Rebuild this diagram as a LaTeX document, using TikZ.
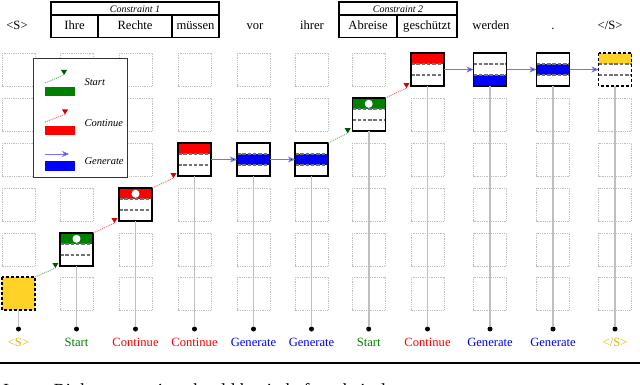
\documentclass[tikz,border=0pt]{standalone}
\usepackage{fontspec}
\setmainfont{Liberation Serif}
\usetikzlibrary{arrows.meta,calc}
\definecolor{gold}{RGB}{255,210,40}
\definecolor{goldtext}{RGB}{228,178,0}
\definecolor{dgreen}{RGB}{0,128,0}
\definecolor{tipgreen}{RGB}{0,85,0}
\definecolor{tipred}{RGB}{210,0,0}
\definecolor{navy}{RGB}{0,0,110}
\tikzset{
 gridbox/.style={draw=black!25, densely dotted, line width=0.8pt},
 tokshape/.style={minimum width=33pt, minimum height=33pt, inner sep=0pt, outer sep=0pt, fill=white},
 slotline/.style={draw=black!55, line width=1.3pt, dash pattern=on 3.5pt off 1.8pt},
 boxborder/.style={draw=black, line width=1.4pt},
 dashedborder/.style={draw=black, line width=1.4pt, dash pattern=on 3pt off 2pt},
 stemline/.style={draw=black!25, line width=1.6pt},
 dotn/.style={circle, fill=black, inner sep=0pt, minimum size=5pt},
 lab/.style={anchor=base, font=\fontsize{12.6}{14}\selectfont},
 word/.style={anchor=base, font=\fontsize{12.6}{14}\selectfont},
 ctitle/.style={anchor=base, font=\fontsize{10}{12}\selectfont\itshape},
 cbox/.style={draw=black, line width=1.1pt},
 legbox/.style={draw=black!80, line width=0.9pt, fill=white, minimum width=94pt, minimum height=119pt, inner sep=0pt},
 legtext/.style={anchor=base west, font=\fontsize{10.5}{12}\selectfont\itshape},
 startline/.style={draw=dgreen!55, densely dotted, line width=1pt},
 contline/.style={draw=red!60, densely dotted, line width=1pt},
 genline/.style={draw=blue!55, line width=0.9pt, -{Stealth[length=7pt,width=6pt,inset=2pt,fill=navy]}},
}
% name, x, ytop, colour, slot, circle(0/1), border style
\newcommand\tokbox[7]{%
 \node[tokshape] (#1) at (#2,#3+16.5) {};
 \fill[#4] (#2-16.5,#3+11*#5) rectangle (#2+16.5,#3+11*#5+11);
 \ifnum#6=1 \fill[white] (#2,#3+5.8) circle[radius=4];\fi
 \draw[slotline] (#2-16.5,#3+11) -- (#2+16.5,#3+11);
 \draw[slotline] (#2-16.5,#3+22) -- (#2+16.5,#3+22);
 \draw[#7] (#1.north west) rectangle (#1.south east);}
\newcommand\triarrow[4]{\draw[#3] (#1) -- (#2); \fill[#4] (#2) -- ++(-3,-5) -- ++(6,0) -- cycle;}
\begin{document}
\begin{tikzpicture}[x=1pt,y=-1pt]
\useasboundingbox (0,0) rectangle (640,385);
% grid of empty cells
\foreach \gx/\occ in {18.5/5,76.5/4,135.5/3,194.5/2,253.5/2,311.5/2,368.7/1,427.5/0,490/0,553/0,615/0}{
 \foreach \rr/\gy in {0/53,1/98,2/143,3/188,4/233,5/277}{
  \ifnum\rr=\occ\relax\else \draw[gridbox] (\gx-16.5,\gy) rectangle ++(33,33);\fi}}
% header
\draw[cbox] (51,2) rectangle (219,37.5);
\draw[cbox] (51,15) -- (219,15);
\draw[cbox] (98,15) -- (98,37.5);
\draw[cbox] (172,15) -- (172,37.5);
\node[ctitle] (c1) at (135,12.3) {Constraint 1};
\draw[cbox] (339,2) rectangle (457,37.5);
\draw[cbox] (339,15) -- (457,15);
\draw[cbox] (397,15) -- (397,37.5);
\node[ctitle] (c2) at (398,12.3) {Constraint 2};
\node[word] (w0) at (17,29.5) {\textless S\textgreater};
\node[word] (w1) at (74.5,29.5) {Ihre};
\node[word] (w2) at (135,29.5) {Rechte};
\node[word] (w3) at (195.5,29.5) {müssen};
\node[word] (w4) at (255,29.5) {vor};
\node[word] (w5) at (312,29.5) {ihrer};
\node[word] (w6) at (368,29.5) {Abreise};
\node[word] (w7) at (427,29.5) {geschützt};
\node[word] (w8) at (491,29.5) {werden};
\node[word] (w9) at (553,29.5) {.};
\node[word] (w10) at (610,29.5) {\textless/S\textgreater};
% token boxes
\node[tokshape, fill=gold] (b0) at (18.5,293.5) {};
\draw[dashedborder] (b0.north west) rectangle (b0.south east);
\tokbox{b1}{76.5}{233}{dgreen}{0}{1}{boxborder}
\tokbox{b2}{135.5}{188}{red}{0}{1}{boxborder}
\tokbox{b3}{194.5}{143}{red}{0}{0}{boxborder}
\tokbox{b4}{253.5}{143}{blue}{1}{0}{boxborder}
\tokbox{b5}{311.5}{143}{blue}{1}{0}{boxborder}
\tokbox{b6}{368.7}{98}{dgreen}{0}{1}{boxborder}
\tokbox{b7}{427.5}{53}{red}{0}{0}{boxborder}
\tokbox{b8}{490}{53}{blue}{2}{0}{boxborder}
\tokbox{b9}{553}{53}{blue}{1}{0}{boxborder}
\tokbox{b10}{615}{53}{gold}{0}{0}{dashedborder}
% stems, dots, labels
\foreach \i/\gx/\txt/\col in {0/18.5/{\textless S\textgreater}/goldtext,1/76.5/Start/dgreen,2/135.5/Continue/red,3/194.5/Continue/red,4/253.5/Generate/blue,5/311.5/Generate/blue,6/368.7/Start/dgreen,7/427.5/Continue/red,8/490/Generate/blue,9/553/Generate/blue,10/615/{\textless/S\textgreater}/goldtext}{
 \node[dotn] (d\i) at (\gx,329) {};
 \draw[stemline] (b\i.south) -- (d\i.north);
 \node[lab, text=\col] (l\i) at (\gx,346) {\txt};
}
% arrows
\coordinate (e1) at ($(b1.south west)!5pt!(b0.north east)$);
\triarrow{b0.north east}{e1}{startline}{tipgreen}
\coordinate (e2) at ($(b2.south west)!5pt!(b1.north east)$);
\triarrow{b1.north east}{e2}{contline}{tipred}
\coordinate (e3) at ($(b3.south west)!5pt!(b2.north east)$);
\triarrow{b2.north east}{e3}{contline}{tipred}
\draw[genline] (b3.east) -- (b4.west);
\draw[genline] (b4.east) -- (b5.west);
\coordinate (e6) at ($(b6.south west)!5pt!(b5.north east)$);
\triarrow{b5.north east}{e6}{startline}{tipgreen}
\coordinate (e7) at ($(b7.south west)!5pt!(b6.north east)$);
\triarrow{b6.north east}{e7}{contline}{tipred}
\draw[genline] (b7.east) -- (b8.west);
\draw[genline] (b8.east) -- (b9.west);
\draw[genline] (b9.east) -- (b10.west);
% legend
\node[legbox] (leg) at (80,117.5) {};
\coordinate (ls1) at (45,83);
\coordinate (le1) at (64,75);
\triarrow{ls1}{le1}{startline}{tipgreen}
\fill[dgreen] (45,87) rectangle (75,96);
\node[legtext] (lt1) at (81,85.5) {Start};
\coordinate (ls2) at (45,122);
\coordinate (le2) at (65,114.5);
\triarrow{ls2}{le2}{contline}{tipred}
\fill[red] (45,126) rectangle (75,135);
\node[legtext] (lt2) at (81,126.5) {Continue};
\coordinate (ls3) at (45,154);
\coordinate (le3) at (69,154);
\draw[genline] (ls3) -- (le3);
\fill[blue] (45,161) rectangle (75,171);
\node[legtext] (lt3) at (81,164.5) {Generate};
% bottom rule and cut caption
\draw[line width=1.3pt] (0,363) -- (640,363);
\begin{scope}
\clip (0,0) rectangle (640,385);
\node[anchor=base west, inner sep=0pt, font=\fontsize{18.5}{20}\selectfont] (cap) at (3,396.5) {Input: Rights protection should begin before their departure .};
\end{scope}
\end{tikzpicture}
\end{document}
